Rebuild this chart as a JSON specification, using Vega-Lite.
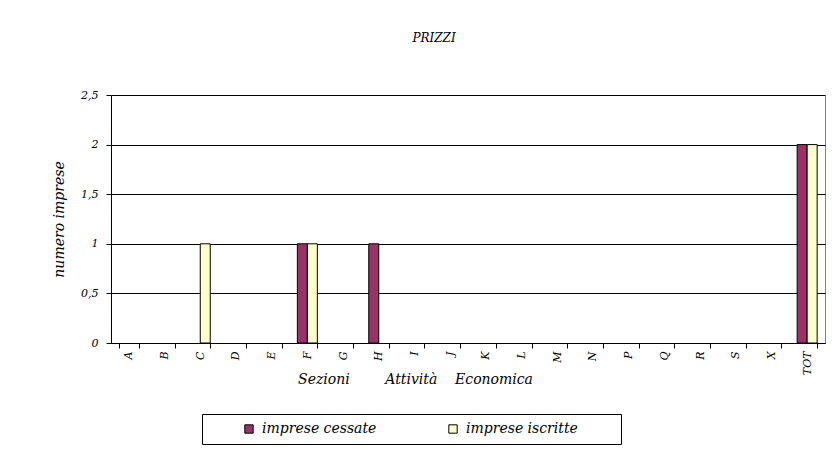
{
  "$schema": "https://vega.github.io/schema/vega-lite/v6.json",
  "width": 714,
  "height": 248,
  "autosize": {"type": "none"},
  "padding": {"left": 111, "top": 95, "right": 11, "bottom": 109},
  "background": "white",
  "title": {
    "text": "PRIZZI",
    "font": "DejaVu Serif",
    "fontStyle": "italic",
    "fontWeight": "normal",
    "fontSize": 12,
    "color": "black",
    "offset": 44,
    "dx": -34
  },
  "data": {
    "values": [
      {"sezione": "A", "serie": "imprese cessate", "valore": 0},
      {"sezione": "A", "serie": "imprese iscritte", "valore": 0},
      {"sezione": "B", "serie": "imprese cessate", "valore": 0},
      {"sezione": "B", "serie": "imprese iscritte", "valore": 0},
      {"sezione": "C", "serie": "imprese cessate", "valore": 0},
      {"sezione": "C", "serie": "imprese iscritte", "valore": 1},
      {"sezione": "D", "serie": "imprese cessate", "valore": 0},
      {"sezione": "D", "serie": "imprese iscritte", "valore": 0},
      {"sezione": "E", "serie": "imprese cessate", "valore": 0},
      {"sezione": "E", "serie": "imprese iscritte", "valore": 0},
      {"sezione": "F", "serie": "imprese cessate", "valore": 1},
      {"sezione": "F", "serie": "imprese iscritte", "valore": 1},
      {"sezione": "G", "serie": "imprese cessate", "valore": 0},
      {"sezione": "G", "serie": "imprese iscritte", "valore": 0},
      {"sezione": "H", "serie": "imprese cessate", "valore": 1},
      {"sezione": "H", "serie": "imprese iscritte", "valore": 0},
      {"sezione": "I", "serie": "imprese cessate", "valore": 0},
      {"sezione": "I", "serie": "imprese iscritte", "valore": 0},
      {"sezione": "J", "serie": "imprese cessate", "valore": 0},
      {"sezione": "J", "serie": "imprese iscritte", "valore": 0},
      {"sezione": "K", "serie": "imprese cessate", "valore": 0},
      {"sezione": "K", "serie": "imprese iscritte", "valore": 0},
      {"sezione": "L", "serie": "imprese cessate", "valore": 0},
      {"sezione": "L", "serie": "imprese iscritte", "valore": 0},
      {"sezione": "M", "serie": "imprese cessate", "valore": 0},
      {"sezione": "M", "serie": "imprese iscritte", "valore": 0},
      {"sezione": "N", "serie": "imprese cessate", "valore": 0},
      {"sezione": "N", "serie": "imprese iscritte", "valore": 0},
      {"sezione": "P", "serie": "imprese cessate", "valore": 0},
      {"sezione": "P", "serie": "imprese iscritte", "valore": 0},
      {"sezione": "Q", "serie": "imprese cessate", "valore": 0},
      {"sezione": "Q", "serie": "imprese iscritte", "valore": 0},
      {"sezione": "R", "serie": "imprese cessate", "valore": 0},
      {"sezione": "R", "serie": "imprese iscritte", "valore": 0},
      {"sezione": "S", "serie": "imprese cessate", "valore": 0},
      {"sezione": "S", "serie": "imprese iscritte", "valore": 0},
      {"sezione": "X", "serie": "imprese cessate", "valore": 0},
      {"sezione": "X", "serie": "imprese iscritte", "valore": 0},
      {"sezione": "TOT", "serie": "imprese cessate", "valore": 2},
      {"sezione": "TOT", "serie": "imprese iscritte", "valore": 2}
    ]
  },
  "mark": {"type": "bar", "stroke": "black", "strokeWidth": 1},
  "encoding": {
    "x": {
      "field": "sezione",
      "type": "nominal",
      "sort": null,
      "scale": {"paddingInner": 0.44, "paddingOuter": 0.22},
      "axis": {
        "title": "Sezioni\u00a0\u00a0\u00a0\u00a0\u00a0\u00a0\u00a0\u00a0Attività\u00a0\u00a0\u00a0\u00a0Economica",
        "titleX": 304,
        "titleY": 40,
        "titleBaseline": "alphabetic",
        "titleAlign": "center",
        "labelAngle": -90,
        "labelPadding": 3,
        "tickBand": "extent",
        "tickSize": 5,
        "grid": false,
        "domainColor": "black",
        "tickColor": "black"
      }
    },
    "xOffset": {"field": "serie", "type": "nominal"},
    "y": {
      "field": "valore",
      "type": "quantitative",
      "scale": {"domain": [0, 2.5], "nice": false},
      "axis": {
        "title": "numero imprese",
        "values": [0, 0.5, 1, 1.5, 2, 2.5],
        "labelExpr": "replace(format(datum.value, ''), '.', ',')",
        "tickSize": 5,
        "labelPadding": 8,
        "titlePadding": 14,
        "grid": true,
        "gridColor": "black",
        "gridWidth": 1,
        "domainColor": "black",
        "tickColor": "black"
      }
    },
    "strokeOpacity": {"condition": {"test": "datum.valore == 0", "value": 0}, "value": 1},
    "color": {
      "field": "serie",
      "type": "nominal",
      "scale": {"domain": ["imprese cessate", "imprese iscritte"], "range": ["#993366", "#FFFFCC"]},
      "legend": {
        "orient": "none",
        "legendX": 91,
        "legendY": 319,
        "direction": "horizontal",
        "title": "\u00a0",
        "titleOrient": "right",
        "titlePadding": 35,
        "strokeColor": "black",
        "fillColor": "white",
        "padding": 8,
        "symbolType": "square",
        "symbolSize": 70,
        "symbolStrokeColor": "black",
        "symbolStrokeWidth": 1,
        "symbolOffset": 32,
        "labelOffset": 6,
        "columnPadding": 37,
        "labelFont": "DejaVu Serif",
        "labelFontStyle": "italic",
        "labelFontSize": 14,
        "labelColor": "black",
        "labelLimit": 300
      }
    }
  },
  "config": {
    "view": {"stroke": "#808080"},
    "axis": {
      "labelFont": "DejaVu Serif",
      "labelFontStyle": "italic",
      "labelFontSize": 11,
      "labelColor": "black",
      "titleFont": "DejaVu Serif",
      "titleFontStyle": "italic",
      "titleFontWeight": "normal",
      "titleFontSize": 14,
      "titleColor": "black"
    }
  }
}
